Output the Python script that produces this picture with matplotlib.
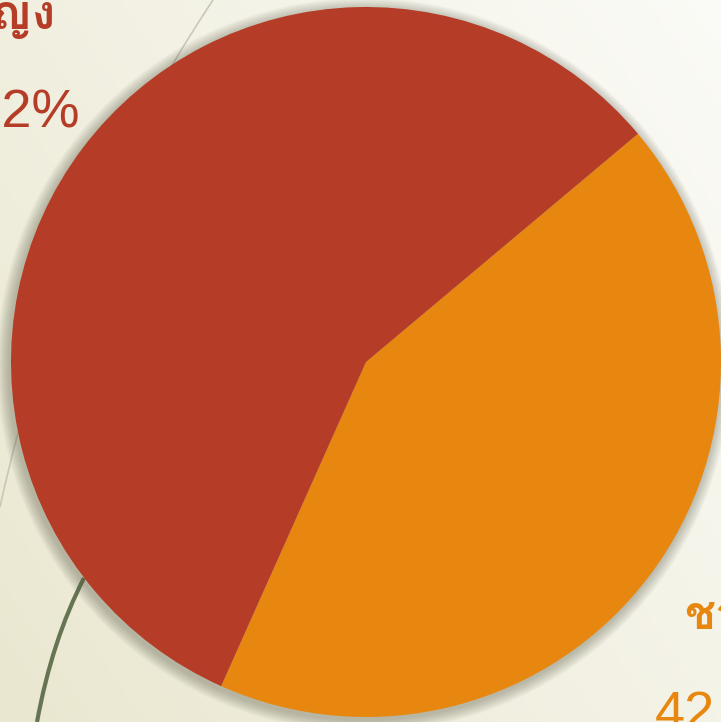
import numpy as np
import matplotlib
matplotlib.use("Agg")
import matplotlib.pyplot as plt
from matplotlib import font_manager
from matplotlib.ft2font import FT2Font
from matplotlib.patches import Circle, PathPatch
from matplotlib.path import Path

# data
labels = ["ชาย", "หญิง"]
shares = [42.8, 57.2]
pct_text = ["42.8%", "57.2%"]
colors = ["#E8870F", "#B53C27"]


def thai_font():
    for f in font_manager.fontManager.ttflist:
        try:
            if 0x0E0A in FT2Font(f.fname).get_charmap():
                return f.name
        except Exception:
            pass
    return "DejaVu Sans"


thai = thai_font()
fam = [thai, "Liberation Sans", "DejaVu Sans"]

W, H = 721, 722
fig = plt.figure(figsize=(W / 100, H / 100), dpi=100)
ax = fig.add_axes([0, 0, 1, 1])
ax.set_xlim(0, W)
ax.set_ylim(0, H)
ax.set_aspect("equal")
ax.axis("off")

# background gradient, beige lower-left to near white upper-right
gx, gy = np.meshgrid(np.linspace(0, 1, 200), np.linspace(0, 1, 200))
t = np.clip(0.6 * gx + 0.4 * gy, 0, 1)
c0 = np.array([234, 231, 208]) / 255
c1 = np.array([251, 251, 247]) / 255
bg = c0 + (c1 - c0) * t[..., None]
ax.imshow(bg, extent=[0, W, 0, H], origin="lower", zorder=0)

# decorative curves (quadratic bezier: start, control, end)
arc = [(213, 0), (60, 230), (0, 507)]
stem = [(84, 578), (52, 640), (37, 722)]
for pts, col, lw in [(arc, "#C8C8B8", 1.2), (stem, "#657553", 3)]:
    verts = [(x, H - y) for x, y in pts]
    ax.add_patch(PathPatch(Path(verts, [Path.MOVETO, Path.CURVE3, Path.CURVE3]),
                           fill=False, edgecolor=col, lw=lw, zorder=1))

cx, cy, r = 366, H - 362, 355

# soft shadow
for k in range(12):
    ax.add_patch(Circle((cx - 2, cy - 3), r + 12 - k, color="#5E5E4A",
                        alpha=0.035, lw=0, zorder=2))

ax.pie(shares, colors=colors, startangle=40, counterclock=False,
       center=(cx, cy), radius=r, frame=True,
       wedgeprops=dict(linewidth=0, zorder=3))
ax.set_xlim(0, W)
ax.set_ylim(0, H)
ax.axis("off")

# labels
ax.text(56, H - 29, labels[1], color=colors[1], fontsize=35, fontweight="bold",
        family=fam, ha="right", va="baseline", zorder=5)
ax.text(80, H - 128, pct_text[1], color=colors[1], fontsize=39,
        family=["Liberation Sans", "DejaVu Sans"], ha="right", va="baseline", zorder=5)
ax.text(684, H - 629, labels[0], color=colors[0], fontsize=33, fontweight="bold",
        family=fam, ha="left", va="baseline", zorder=5)
ax.text(655, H - 730, pct_text[0], color=colors[0], fontsize=39,
        family=["Liberation Sans", "DejaVu Sans"], ha="left", va="baseline", zorder=5)

fig.savefig("out.png", dpi=100)
